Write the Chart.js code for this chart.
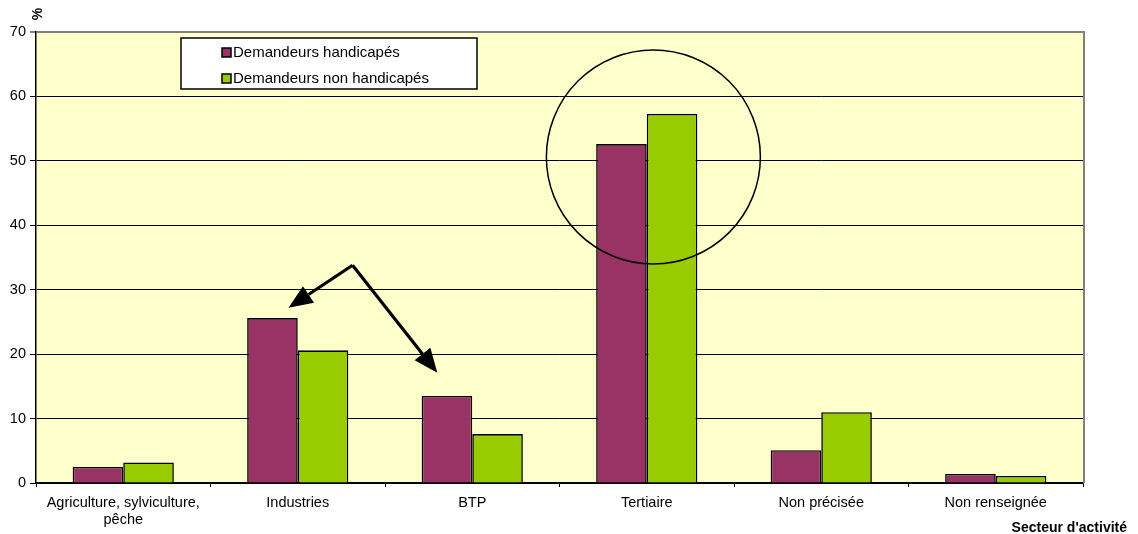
<!DOCTYPE html>
<html>
<head>
<meta charset="utf-8">
<script src="https://cdn.jsdelivr.net/npm/chart.js@4/dist/chart.umd.min.js"></script>
<style>
  html, body { margin: 0; padding: 0; background: #ffffff; }
  #wrap { width: 1138px; height: 534px; }
</style>
</head>
<body>
<div id="wrap"><canvas id="secteurChart"></canvas></div>
<script>
// Secteurs d'activité (axe X)
const secteurs = [
    ['Agriculture, sylviculture,', 'pêche'],
    'Industries',
    'BTP',
    'Tertiaire',
    'Non précisée',
    'Non renseignée'
];

// Répartition en % par secteur
const handicapes = [2.5, 25.6, 13.5, 52.6, 5.1, 1.4];
const nonHandicapes = [3.2, 20.6, 7.6, 57.3, 11.0, 1.1];

const FONT = "'Liberation Sans', Arial, sans-serif";

// Fond jaune pâle de la zone de tracé + bordure grise à droite
const fondZone = {
    id: 'fondZone',
    beforeDraw(chart) {
        const { ctx, chartArea: a } = chart;
        ctx.save();
        ctx.fillStyle = '#FFFFCC';
        ctx.fillRect(a.left, a.top, a.right - a.left, a.bottom - a.top);
        ctx.restore();
    },
    afterDatasetsDraw(chart) {
        const { ctx, chartArea: a } = chart;
        ctx.save();
        ctx.strokeStyle = '#808080';
        ctx.lineWidth = 2;
        ctx.beginPath();
        ctx.moveTo(a.right + 1, a.top - 1);
        ctx.lineTo(a.right + 1, a.bottom);
        ctx.stroke();
        ctx.restore();
    }
};

// Légende encadrée, cercle, flèches et titres d'axes
const decor = {
    id: 'decor',
    afterDraw(chart) {
        const { ctx } = chart;
        const x = chart.scales.x, y = chart.scales.y;
        ctx.save();

        // légende
        ctx.fillStyle = '#ffffff';
        ctx.fillRect(181, 38, 296, 51);
        ctx.strokeStyle = '#000000';
        ctx.lineWidth = 1.5;
        ctx.strokeRect(181, 38, 296, 51);
        ctx.font = '15px ' + FONT;
        ctx.textBaseline = 'middle';
        chart.data.datasets.forEach((ds, i) => {
            const cy = 53 + i * 26;
            ctx.fillStyle = ds.backgroundColor;
            ctx.fillRect(222, cy - 5, 9, 9);
            ctx.lineWidth = 1.5;
            ctx.strokeRect(222, cy - 5, 9, 9);
            ctx.fillStyle = '#000000';
            ctx.fillText(ds.label, 233, cy);
        });

        // cercle autour du tertiaire
        ctx.lineWidth = 1.5;
        ctx.beginPath();
        ctx.arc(x.getPixelForValue(3.038), y.getPixelForValue(50.6), 107, 0, Math.PI * 2);
        ctx.stroke();

        // flèches Industries / BTP
        const sommet = [x.getPixelForValue(1.314), y.getPixelForValue(33.8)];
        const pointes = [
            [x.getPixelForValue(0.947), y.getPixelForValue(27.2)],
            [x.getPixelForValue(1.80), y.getPixelForValue(17.1)]
        ];
        ctx.lineWidth = 3.2;
        ctx.fillStyle = '#000000';
        pointes.forEach(p => {
            const ang = Math.atan2(p[1] - sommet[1], p[0] - sommet[0]);
            const len = 24, half = 10;
            const bx = p[0] - Math.cos(ang) * len, by = p[1] - Math.sin(ang) * len;
            ctx.beginPath();
            ctx.moveTo(sommet[0], sommet[1]);
            ctx.lineTo(bx, by);
            ctx.stroke();
            ctx.beginPath();
            ctx.moveTo(p[0], p[1]);
            ctx.lineTo(bx + Math.sin(ang) * half, by - Math.cos(ang) * half);
            ctx.lineTo(bx - Math.sin(ang) * half, by + Math.cos(ang) * half);
            ctx.closePath();
            ctx.fill();
        });

        // titres d'axes
        ctx.font = 'bold 14px ' + FONT;
        ctx.textAlign = 'right';
        ctx.textBaseline = 'middle';
        ctx.fillText("Secteur d'activité", 1127, 528);
        ctx.translate(38, 14);
        ctx.rotate(-Math.PI / 2);
        ctx.textAlign = 'center';
        ctx.fillText('%', 0, 0);
        ctx.restore();
    }
};

const config = {
    type: 'bar',
    data: {
        labels: secteurs,
        datasets: [
            {
                label: 'Demandeurs handicapés',
                data: handicapes,
                backgroundColor: '#993366',
                borderColor: '#000000',
                borderWidth: 1.6
            },
            {
                label: 'Demandeurs non handicapés',
                data: nonHandicapes,
                backgroundColor: '#99CC00',
                borderColor: '#000000',
                borderWidth: 1.6
            }
        ]
    },
    options: {
        responsive: true,
        maintainAspectRatio: false,
        animation: false,
        categoryPercentage: 0.58,
        barPercentage: 1,
        layout: { padding: { top: 32, right: 55, left: 0, bottom: 0 } },
        plugins: {
            legend: { display: false },
            tooltip: { enabled: false }
        },
        scales: {
            x: {
                afterFit(scale) { scale.height = 51; },
                grid: {
                    drawOnChartArea: false,
                    color: '#000000',
                    tickLength: 4,
                    offset: true
                },
                border: { color: '#000000', width: 1.5 },
                ticks: {
                    color: '#000000',
                    padding: 7,
                    maxRotation: 0,
                    autoSkip: false,
                    font: { family: FONT, size: 14.5 },
                    lineHeight: 1.2
                }
            },
            y: {
                min: 0,
                max: 70,
                afterFit(scale) { scale.width = 36; },
                grid: {
                    color: ctx => ctx.tick && ctx.tick.value === 70 ? '#808080' : '#000000',
                    lineWidth: ctx => ctx.tick && ctx.tick.value === 70 ? 2 : 1,
                    tickLength: 6
                },
                border: { color: '#000000', width: 1.5 },
                ticks: {
                    stepSize: 10,
                    color: '#000000',
                    padding: 4,
                    font: { family: FONT, size: 14.5 }
                }
            }
        }
    },
    plugins: [fondZone, decor]
};

const secteurChart = new Chart(document.getElementById('secteurChart'), config);
</script>
</body>
</html>
